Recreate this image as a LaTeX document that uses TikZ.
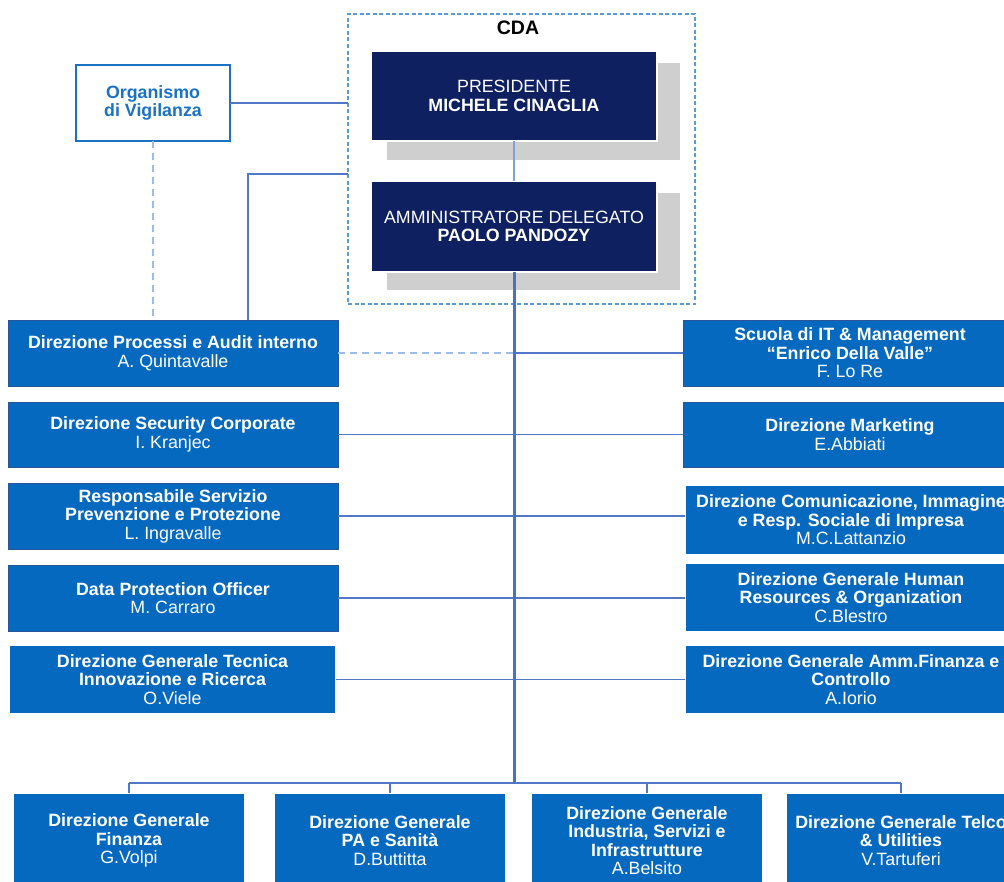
\documentclass[tikz,border=0pt]{standalone}
\usepackage{fontspec}
\setmainfont{Liberation Sans}
\usetikzlibrary{positioning}

\definecolor{boxblue}{HTML}{0569BF}
\definecolor{boxedge}{HTML}{2A5599}
\definecolor{navy}{HTML}{0E2060}
\definecolor{linkblue}{HTML}{5078C6}
\definecolor{trunkblue}{HTML}{4A72C4}
\definecolor{dashblue}{HTML}{9DBBE8}
\definecolor{cdablue}{HTML}{5B9BD5}
\definecolor{odvblue}{HTML}{1A72C6}
\definecolor{shadowgray}{HTML}{CFCFCF}
\definecolor{dbledge}{HTML}{8FB4E3}
\definecolor{topedge}{HTML}{9FA8C2}
\definecolor{midlink}{HTML}{7FA0DC}

\tikzset{
  x=1pt, y=-1pt,
  base/.style={inner sep=0pt, outer sep=0pt, anchor=north west, align=center,
    font=\fontsize{17.8}{18.5}\selectfont\bfseries},
  unitbox/.style={base, fill=boxblue, draw=boxedge, line width=0.8pt, text=white},
  unitdbl/.style={base, fill=boxblue, draw=dbledge, line width=0.7pt,
    double=white, double distance=1.2pt, text=white},
  topbox/.style={base, fill=navy, draw=topedge, line width=0.6pt,
    double=white, double distance=1.2pt, text=white,
    font=\fontsize{17.8}{18.5}\selectfont},
  link/.style={draw=linkblue, line width=1.3pt},
  dotlink/.style={draw=dashblue, line width=1.5pt, dash pattern=on 7pt off 5pt},
  trunk/.style={draw=trunkblue, line width=3pt},
}

\begin{document}
\begin{tikzpicture}
\useasboundingbox (0,0) rectangle (1004,881);
\clip (0,0) rectangle (1004,881);

% board of directors frame
\node[draw=cdablue, line width=1.2pt, dash pattern=on 4pt off 2.5pt, inner sep=0pt,
  outer sep=0pt, anchor=north west, minimum width=347pt, minimum height=290pt] (cda) at (348,14) {};
\node[font=\fontsize{19.5}{20}\selectfont\bfseries, inner sep=0pt] (cdalbl) at (518,28) {CDA};

% shadows behind the two top boxes
\fill[shadowgray] (387,63) rectangle (680,160);
\fill[shadowgray] (387,193) rectangle (680,290);

\node[topbox, minimum width=286pt, minimum height=90pt] (pres) at (371,51)
  {PRESIDENTE\\\bfseries MICHELE CINAGLIA};
\node[topbox, minimum width=286pt, minimum height=91pt] (ad) at (371,181)
  {AMMINISTRATORE DELEGATO\\\bfseries PAOLO PANDOZY};

% supervisory body
\node[base, draw=odvblue, line width=2.5pt, fill=white, text=odvblue,
  minimum width=154pt, minimum height=76pt] (odv) at (76,65) {Organismo\\di Vigilanza};

% staff units, left column
\node[unitbox, minimum width=330pt, minimum height=66pt] (l1) at (8,320)
  {Direzione Processi e Audit interno\\\mdseries A. Quintavalle};
\node[unitbox, minimum width=330pt, minimum height=65pt] (l2) at (8,402)
  {Direzione Security Corporate\\\mdseries I. Kranjec};
\node[unitbox, minimum width=330pt, minimum height=66pt] (l3) at (8,483)
  {Responsabile Servizio\\Prevenzione e Protezione\\\mdseries L. Ingravalle};
\node[unitbox, minimum width=330pt, minimum height=66pt] (l4) at (8,565)
  {Data Protection Officer\\\mdseries M. Carraro};
\node[unitdbl, minimum width=327pt, minimum height=69pt] (l5) at (9,645)
  {Direzione Generale Tecnica\\Innovazione e Ricerca\\\mdseries O.Viele};

% staff units, right column
\node[unitbox, minimum width=334pt, minimum height=66pt] (r1) at (683,320)
  {Scuola di IT \& Management\\“Enrico Della Valle”\\\mdseries F. Lo Re};
\node[unitbox, minimum width=334pt, minimum height=65pt] (r2) at (683,402)
  {Direzione Marketing\\\mdseries E.Abbiati};
\node[unitdbl, minimum width=332pt, minimum height=70pt] (r3) at (685,485)
  {Direzione Comunicazione, Immagine\\e Resp. Sociale di Impresa\\\mdseries M.C.Lattanzio};
\node[unitdbl, minimum width=332pt, minimum height=69pt] (r4) at (685,563)
  {Direzione Generale Human\\Resources \& Organization\\\mdseries C.Blestro};
\node[unitdbl, minimum width=332pt, minimum height=69pt] (r5) at (685,645)
  {Direzione Generale Amm.Finanza e\\Controllo\\\mdseries A.Iorio};

% business divisions
\node[unitdbl, minimum width=232pt, minimum height=95pt] (b1) at (13,793)
  {Direzione Generale\\Finanza\\\mdseries G.Volpi};
\node[unitdbl, minimum width=232pt, minimum height=95pt] (b2) at (274,793)
  {Direzione Generale\\PA e Sanità\\\mdseries D.Buttitta};
\node[unitdbl, minimum width=232pt, minimum height=95pt] (b3) at (531,793)
  {Direzione Generale\\Industria, Servizi e\\Infrastrutture\\\mdseries A.Belsito};
\node[unitdbl, minimum width=230pt, minimum height=95pt] (b4) at (786,793)
  {Direzione Generale Telco\\\& Utilities\\\mdseries V.Tartuferi};

% connectors
\coordinate (bus) at (514,783);
\coordinate (cdaj) at (348,174);
\coordinate (auditj) at (248,320);

\draw[draw=midlink, line width=2.5pt] (pres.south) -- (ad.north);
\draw[link] (odv.east) -- (odv.east -| cda.west);
\draw[dotlink] (odv.south) -- (odv.south |- l1.north);
\draw[link] (cdaj) -| (auditj);

\draw[dotlink] (l1.east) -- (l1.east -| bus);
\draw[link] (l1.east -| bus) -- (r1.west);
\draw[link] (l2.east) -- (l2.east -| r2.west);
\draw[link] (l3.east) -- (l3.east -| r3.west);
\draw[link] (l4.east) -- (l4.east -| r4.west);
\draw[link] (l5.east) -- (l5.east -| r5.west);

\draw[link] (b1.north |- bus) -- (b4.north |- bus);
\foreach \b in {b1,b2,b3,b4} \draw[link] (\b.north) -- (\b.north |- bus);
\draw[trunk] (ad.south) -- (bus);

\end{tikzpicture}
\end{document}
